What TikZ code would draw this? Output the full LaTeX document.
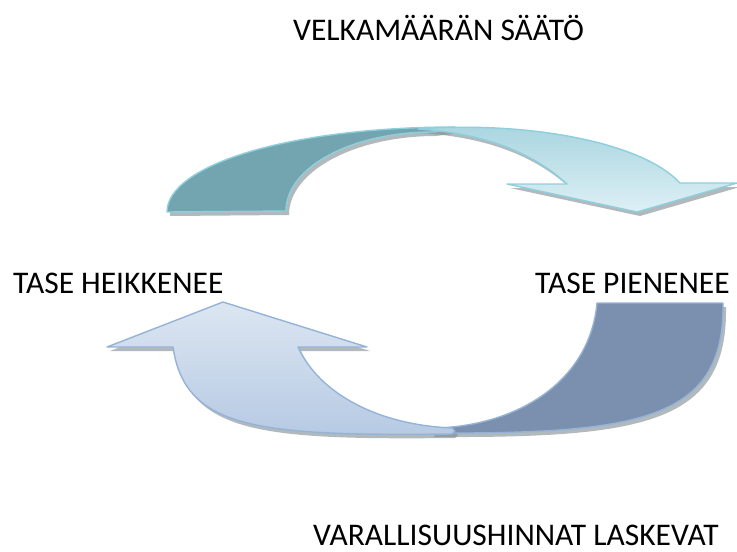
\documentclass[tikz,border=0pt]{standalone}
\usepackage{fontspec}
\setmainfont{Carlito}
\definecolor{topdark}{HTML}{73A5B1}
\definecolor{topline}{HTML}{8ECFDD}
\definecolor{toplightA}{HTML}{A7D4DF}
\definecolor{toplightB}{HTML}{DDF0F5}
\definecolor{botdark}{HTML}{7A90AE}
\definecolor{botline}{HTML}{95B3D7}
\definecolor{botlightA}{HTML}{DCE6F2}
\definecolor{botlightB}{HTML}{B6CAE3}
\definecolor{shadowc}{HTML}{7F8A90}
\tikzset{
  lbl/.style={anchor=base west, inner sep=0pt, font=\fontsize{31.5}{36}\selectfont},
  shade/.style={fill=shadowc, fill opacity=0.6, draw=none},
  topband/.style={draw=topline, line width=1.4pt, line join=round},
  botband/.style={draw=botline, line width=1.4pt, line join=round}
}
\def\topdarkpath{(167,212) .. controls (167,165) and (290,127) .. (455,127) -- (455,129) -- (433,132) .. controls (352,132) and (286,167) .. (286,211) -- cycle}
\def\toplightpath{(418,129) .. controls (520,121) and (640,140) .. (680,183) -- (737,183) -- (637,212) -- (507,184) -- (567,184) .. controls (530,150) and (480,133) .. (418,129) -- cycle}
\def\botdarkpath{(597,303) -- (723,303) .. controls (725,420) and (640,434) .. (430,433) -- (437,428) .. controls (520,425) and (590,380) .. (597,303) -- cycle}
\def\botlightpath{(223,302) -- (367,347) -- (298,347) .. controls (320,395) and (380,425) .. (452,428) -- (455,431) -- (452,434) .. controls (260,436) and (185,430) .. (173,347) -- (107,347) -- cycle}
\begin{document}
\begin{tikzpicture}[x=1pt,y=-1pt]
\useasboundingbox (0,0) rectangle (737,552);
% shadows
\fill[shade, shift={(3,4)}] \topdarkpath;
\fill[shade, shift={(3,4)}] \toplightpath;
\fill[shade, shift={(3,4)}] \botdarkpath;
\fill[shade, shift={(3,4)}] \botlightpath;
% top arrow
\path[topband, fill=topdark] \topdarkpath;
\path[topband, top color=toplightA, bottom color=toplightB] \toplightpath;
% bottom arrow
\path[botband, fill=botdark] \botdarkpath;
\path[botband, top color=botlightA, bottom color=botlightB] \botlightpath;
% labels
\node[lbl] (velka) at (293,40) {VELKAMÄÄRÄN SÄÄTÖ};
\node[lbl] (heik) at (13,293) {TASE HEIKKENEE};
\node[lbl] (pien) at (535,293) {TASE PIENENEE};
\node[lbl] (vara) at (313,545) {VARALLISUUSHINNAT LASKEVAT};
\end{tikzpicture}
\end{document}
